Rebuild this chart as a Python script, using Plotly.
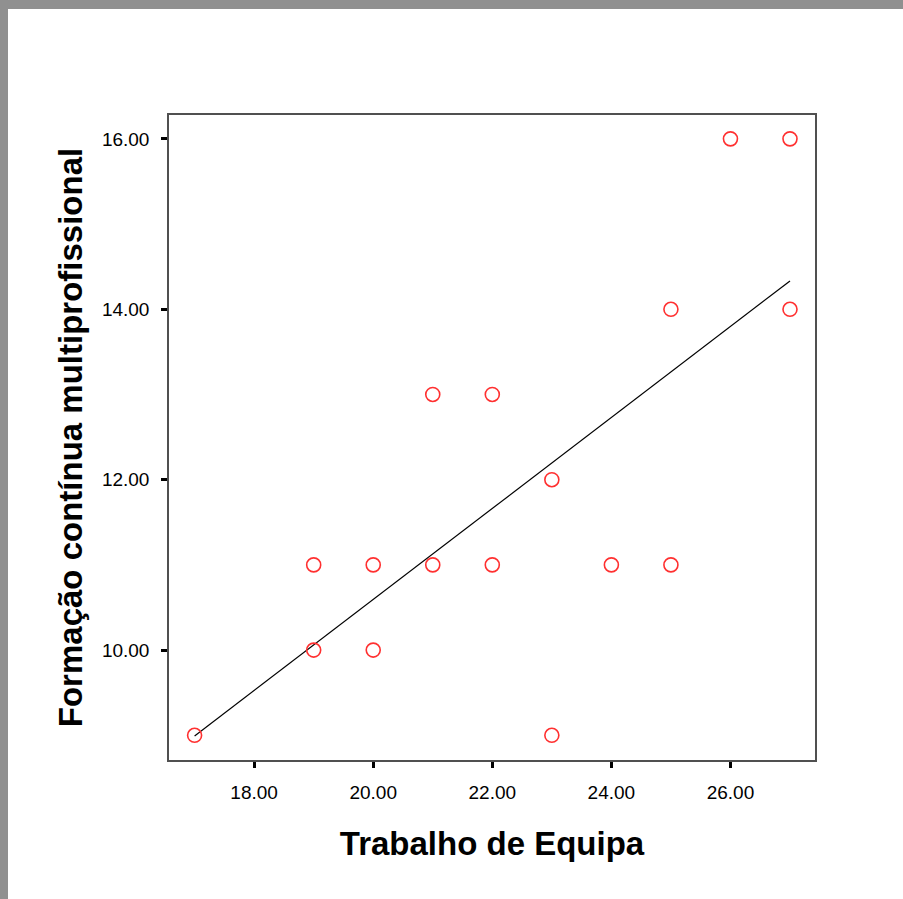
import numpy as np
import plotly.graph_objects as go

# Data
trabalho_equipa = [17, 19, 19, 20, 20, 21, 21, 22, 22, 23, 23, 24, 25, 25, 26, 27, 27]
formacao = [9, 11, 10, 11, 10, 13, 11, 13, 11, 12, 9, 11, 14, 11, 16, 16, 14]
x_ticks = [18, 20, 22, 24, 26]
y_ticks = [10, 12, 14, 16]
x_title = "Trabalho de Equipa"
y_title = "Formação contínua multiprofissional"

# Linear fit line (from data)
xa = np.array(trabalho_equipa, dtype=float)
ya = np.array(formacao, dtype=float)
slope, intercept = np.polyfit(xa, ya, 1)
fit_x = [xa.min(), xa.max()]
fit_y = [slope * v + intercept for v in fit_x]

fig = go.Figure()
fig.add_trace(go.Scatter(
    x=fit_x, y=fit_y, mode="lines",
    line=dict(color="black", width=1.2), showlegend=False, hoverinfo="skip"))
fig.add_trace(go.Scatter(
    x=trabalho_equipa, y=formacao, mode="markers",
    marker=dict(symbol="circle-open", size=14, color="#ff3030",
                line=dict(color="#ff3030", width=1.6)),
    showlegend=False))

W, H = 903, 899
L, R, T, B = 169, 815, 115, 760

def px2paper_x(px):
    return (px - L) / (R - L)

def px2paper_y(py):
    return (B - py) / (B - T)

# gray frame strips (top and left)
fig.add_shape(type="rect", xref="paper", yref="paper",
              x0=px2paper_x(0), x1=px2paper_x(W), y0=px2paper_y(0), y1=px2paper_y(9),
              fillcolor="#909090", line=dict(width=0), layer="above")
fig.add_shape(type="rect", xref="paper", yref="paper",
              x0=px2paper_x(0), x1=px2paper_x(8), y0=px2paper_y(0), y1=px2paper_y(H),
              fillcolor="#909090", line=dict(width=0), layer="above")

axis_common = dict(
    showgrid=False, zeroline=False,
    showline=True, mirror=True, linecolor="#505050", linewidth=1.5,
    ticks="outside", ticklen=6, tickwidth=3, tickcolor="black",
    tickformat=".2f",
    tickfont=dict(family="Arial, Liberation Sans, sans-serif", size=19, color="black"),
)

fig.update_xaxes(range=[16.57, 27.42], tickvals=x_ticks, ticklabelstandoff=8,
                 title=dict(text=x_title, standoff=30,
                            font=dict(family="Arial, Liberation Sans, sans-serif",
                                      size=33, color="black", weight="bold")),
                 automargin=False, **axis_common)
fig.update_yaxes(range=[8.71, 16.28], tickvals=y_ticks, ticklabelstandoff=8,
                 title=dict(text=y_title, standoff=9,
                            font=dict(family="Arial, Liberation Sans, sans-serif",
                                      size=33, color="black", weight="bold")),
                 automargin=False, **axis_common)

fig.update_layout(
    width=W, height=H,
    margin=dict(l=L, r=W - R, t=T, b=H - B, pad=0),
    paper_bgcolor="white", plot_bgcolor="white",
    showlegend=False,
)

fig.write_html("out.html",
               config={"displayModeBar": False},
               post_script="document.body.style.margin='0px';document.body.style.overflow='hidden';")
